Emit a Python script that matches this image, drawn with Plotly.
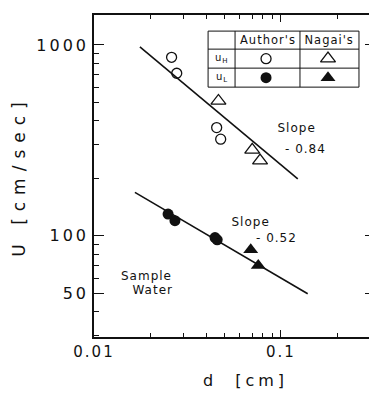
import plotly.graph_objects as go

# ---- data ----
auth_H_d = [0.0260, 0.0277, 0.0453, 0.0476]
auth_H_U = [862, 711, 369, 321]
nagai_H_d = [0.0463, 0.0702, 0.0773]
nagai_H_U = [509, 282, 248]
auth_L_d = [0.0249, 0.0271, 0.0444, 0.0456]
auth_L_U = [130, 120, 97.9, 95.3]
nagai_L_d = [0.0689, 0.0756]
nagai_L_U = [84.5, 69.9]
fit_H_d = [0.0176, 0.123]
fit_H_U = [976, 199]
fit_L_d = [0.01655, 0.139]
fit_L_U = [169, 49.7]

x_ticks = [0.01, 0.1]
x_ticktext = ["0.01", "0.1"]
x_minor = [0.02, 0.03, 0.04, 0.05, 0.06, 0.07, 0.08, 0.09, 0.2, 0.3]
y_ticks = [50, 100, 1000]
y_ticktext = ["50", "100", "1000"]
y_minor = [30, 40, 60, 70, 80, 90, 200, 300, 400, 500, 600, 700, 800, 900]

table_cols = ["Author's", "Nagai's"]
table_rows = ["u<sub>L</sub>", "u<sub>H</sub>"]

INK = "#111111"
FONT = "DejaVu Sans"

fig = go.Figure()

# fitted lines
fig.add_trace(go.Scatter(x=fit_H_d, y=fit_H_U, mode="lines",
                         line=dict(color=INK, width=1.6), showlegend=False))
fig.add_trace(go.Scatter(x=fit_L_d, y=fit_L_U, mode="lines",
                         line=dict(color=INK, width=1.6), showlegend=False))

open_c = dict(symbol="circle-open", size=10, color=INK, line=dict(width=1.3, color=INK))
fill_c = dict(symbol="circle", size=11, color=INK, line=dict(width=0))
open_t = dict(symbol="triangle-up-open", size=13, color=INK, line=dict(width=1.3, color=INK))
fill_t = dict(symbol="triangle-up", size=13, color=INK, line=dict(width=0))

fig.add_trace(go.Scatter(x=auth_H_d, y=auth_H_U, mode="markers", marker=open_c, showlegend=False))
fig.add_trace(go.Scatter(x=nagai_H_d, y=nagai_H_U, mode="markers", marker=open_t, showlegend=False))
fig.add_trace(go.Scatter(x=auth_L_d, y=auth_L_U, mode="markers", marker=fill_c, showlegend=False))
fig.add_trace(go.Scatter(x=nagai_L_d, y=nagai_L_U, mode="markers", marker=fill_t, showlegend=False))

# table symbols on a categorical grid
fig.add_trace(go.Scatter(x=[table_cols[0]], y=[table_rows[1]], xaxis="x2", yaxis="y2",
                         mode="markers", marker=open_c, showlegend=False))
fig.add_trace(go.Scatter(x=[table_cols[0]], y=[table_rows[0]], xaxis="x2", yaxis="y2",
                         mode="markers", marker=fill_c, showlegend=False))
fig.add_trace(go.Scatter(x=[table_cols[1]], y=[table_rows[1]], xaxis="x2", yaxis="y2",
                         mode="markers", marker=open_t, showlegend=False))
fig.add_trace(go.Scatter(x=[table_cols[1]], y=[table_rows[0]], xaxis="x2", yaxis="y2",
                         mode="markers", marker=fill_t, showlegend=False))

# table geometry (paper coords)
tx = [0.406, 0.502, 0.733, 0.943]
ty = [0.950, 0.894, 0.835, 0.776]
shapes = []
for x in tx:
    shapes.append(dict(type="line", xref="paper", yref="paper", x0=x, x1=x, y0=ty[-1], y1=ty[0],
                       line=dict(color=INK, width=1)))
for y in ty:
    shapes.append(dict(type="line", xref="paper", yref="paper", x0=tx[0], x1=tx[-1], y0=y, y1=y,
                       line=dict(color=INK, width=1)))

ann = []
def txt(s, x, y, size=12, xanchor="center"):
    ann.append(dict(text=s, x=x, y=y, xref="paper", yref="paper", showarrow=False,
                    xanchor=xanchor, yanchor="middle", font=dict(size=size, color=INK, family=FONT)))

txt("Author's", (tx[1] + tx[2]) / 2, (ty[0] + ty[1]) / 2, 11.5)
txt("Nagai's", (tx[2] + tx[3]) / 2, (ty[0] + ty[1]) / 2, 11.5)
txt(table_rows[1], (tx[0] + tx[1]) / 2, (ty[1] + ty[2]) / 2, 10)
txt(table_rows[0], (tx[0] + tx[1]) / 2, (ty[2] + ty[3]) / 2, 10)

txt("Slope", 0.722, 0.649, 12)
txt("- 0.84", 0.754, 0.584, 12)
txt("Slope", 0.558, 0.358, 12)
txt("- 0.52", 0.650, 0.306, 12)
txt("Sample", 0.188, 0.190, 12)
txt("Water", 0.211, 0.146, 12)

fig.update_layout(
    width=377, height=393,
    margin=dict(l=86, r=10, t=7, b=64, autoexpand=False),
    paper_bgcolor="white", plot_bgcolor="white",
    font=dict(family=FONT, color=INK),
    shapes=shapes, annotations=ann,
    xaxis=dict(type="log", range=[-2, -0.497], tickvals=x_ticks, ticktext=x_ticktext,
               ticks="inside", ticklen=7, tickwidth=1.2, tickcolor=INK,
               minor=dict(tickvals=x_minor, ticks="inside", ticklen=4, tickwidth=1.2, tickcolor=INK),
               showline=True, linecolor=INK, linewidth=1.5, mirror="allticks",
               showgrid=False, zeroline=False, tickfont=dict(size=15, family=FONT, color=INK),
               title=dict(text="d  [cm]", font=dict(size=16, family=FONT, color=INK), standoff=15)),
    yaxis=dict(type="log", range=[1.47, 3.157], tickvals=y_ticks, ticktext=y_ticktext,
               ticks="inside", ticklen=10, tickwidth=1.2, tickcolor=INK,
               minor=dict(tickvals=y_minor, ticks="inside", ticklen=5, tickwidth=1.2, tickcolor=INK),
               showline=True, linecolor=INK, linewidth=1.5, mirror="allticks",
               showgrid=False, zeroline=False, tickfont=dict(size=16, family=FONT, color=INK),
               title=dict(text="U [cm/sec]", font=dict(size=17, family=FONT, color=INK), standoff=18)),
    xaxis2=dict(domain=[tx[1], tx[3]], anchor="y2", type="category", categoryorder="array",
                categoryarray=table_cols, visible=False, range=[-0.5, 1.5]),
    yaxis2=dict(domain=[ty[3], ty[1]], anchor="x2", type="category", categoryorder="array",
                categoryarray=table_rows, visible=False, range=[-0.5, 1.5]),
)

post = """
function sp(sel, v) { document.querySelectorAll(sel).forEach(function(t) { t.style.letterSpacing = v; }); }
sp('.xtick text', '2px');
sp('.ytick text', '3px');
sp('.g-xtitle text', '4px');
sp('.g-ytitle text', '7px');
sp('.annotation-text', '1px');
document.querySelectorAll('.g-xtitle text').forEach(function(t) { t.setAttribute('transform', 'translate(11,0)'); });
"""

fig.write_html("out.html", post_script=post)
